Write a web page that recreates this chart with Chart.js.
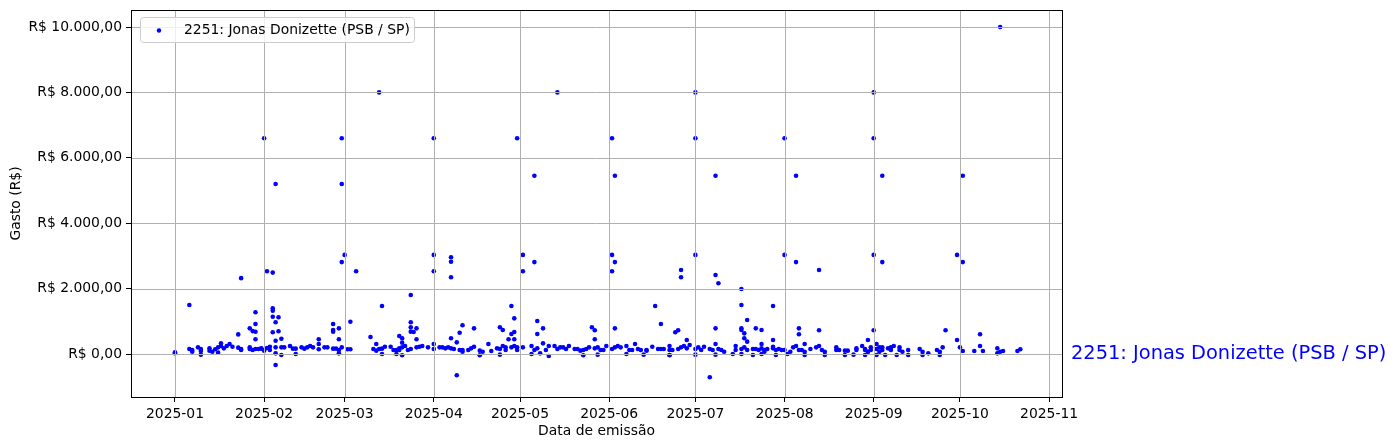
<!DOCTYPE html>
<html><head><meta charset="utf-8">
<style>html,body{margin:0;padding:0;background:#fff;}#wrap{width:1397px;height:448px;position:relative;}</style>
<script src="https://cdn.jsdelivr.net/npm/chart.js@4.4.1/dist/chart.umd.min.js"></script>
</head><body><div id="wrap"><canvas id="c" width="1397" height="448"></canvas></div>
<script>
// Dias desde 2025-01-01 (data de emissão) e gasto (R$) de cada documento
const dias = [
0,0,5,5,6,6,8,9,9,9,12,12,13,14,15,15,16,16,17,18,19,20,22,22,23,23,23,26,26,26,27,27,28,28,28,28,28,29,30,30,
31,31,31,32,32,33,33,34,34,34,34,34,35,36,36,37,35,35,35,37,38,40,41,42,44,45,46,47,48,50,50,50,52,53,55,56,57,58,60,61,37,35,42,57,55,55,55,57,57,35,
58,58,59,58,61,63,68,69,70,71,72,73,75,76,77,78,78,79,80,81,82,84,85,86,88,90,90,92,93,94,95,96,97,99,100,102,72,77,79,71,72,82,82,82,83,84,82,84,78,79,70,79,
90,90,90,96,96,96,100,99,98,96,98,100,103,104,106,107,110,112,113,114,115,115,117,118,119,119,106,113,104,113,114,118,117,116,118,117,118,109,
119,121,121,125,125,126,126,128,133,121,124,125,126,128,129,130,132,133,134,135,136,137,130,124,127,
139,140,141,142,143,144,146,147,148,149,150,152,153,154,155,157,158,159,160,161,162,164,164,166,168,169,170,172,142,147,157,163,172,145,146,146,153,167,169,152,152,152,153,153,
176,176,174,175,178,172,173,175,176,177,178,179,181,182,183,184,186,187,188,189,190,191,195,195,197,198,199,201,202,203,204,205,206,172,181,188,194,197,201,204,186,181,181,181,188,188,189,188,197,197,199,197,197,198,198,199,202,204,204,
205,208,208,209,210,211,212,214,215,216,217,218,219,221,223,224,225,226,230,230,231,233,234,237,237,239,240,241,241,209,213,219,226,233,236,208,208,217,217,224,224,219,212,212,216,216,
240,241,242,242,244,244,245,245,246,246,248,249,249,250,252,252,253,255,259,260,262,265,266,267,240,244,247,251,255,260,266,243,243,243,243,246,246,268,272,273,274,
272,274,274,280,280,278,281,286,286,287,288,287,293,294
];
const gastos = [
50,20,1500,153,122,71,204,153,92,-20,173,102,71,143,204,41,245,326,173,245,306,224,194,600,153,122,2320,204,785,153,122,700,153,1275,917,450,680,153,173,163,
122,6600,102,184,2530,122,224,2490,1398,1325,1141,663,969,1122,694,468,407,-336,204,204,204,245,163,163,204,163,204,245,204,450,306,143,204,204,163,163,122,204,143,143,-30,20,0,20,917,734,683,785,450,5200,
6600,5200,3030,2810,988,2530,520,153,102,153,163,224,224,122,122,173,122,204,245,122,153,204,224,245,204,306,153,204,204,173,204,173,153,122,122,122,0,0,-40,8000,1468,1804,969,816,673,785,683,450,550,480,306,347,
6600,3030,2530,2960,2820,2345,877,652,357,480,-652,71,173,224,102,71,92,173,153,245,122,204,204,245,204,122,-40,-20,785,816,734,673,612,450,450,1468,1090,306,
6600,3030,2530,5450,2810,1009,612,785,8000,204,245,122,173,326,122,245,245,153,204,204,153,245,-60,0,20,
153,153,102,122,153,204,173,204,122,122,245,153,204,245,204,245,122,122,306,153,122,102,122,224,153,153,153,122,-40,-20,0,-20,-40,816,725,450,785,1468,917,6600,3030,2530,5450,2810,
2570,2345,663,725,428,245,122,153,204,245,173,275,153,204,122,224,153,122,306,153,122,71,245,122,153,204,122,153,153,122,173,122,153,-30,-20,-20,0,0,-30,0,-713,8000,6600,3030,5450,2416,2162,785,1988,1498,1040,785,734,632,480,377,785,306,734,
71,173,224,122,153,122,122,71,204,245,122,122,71,153,204,245,122,71,204,122,122,102,102,173,122,245,153,428,71,-30,0,-30,-30,-30,-20,1468,428,785,602,2570,725,306,6600,3030,5450,2810,
122,71,204,122,153,306,71,204,122,204,173,122,204,245,122,204,71,122,153,71,20,122,71,204,-30,-30,-30,-30,-30,-30,-30,725,8000,6600,3030,5450,2810,725,428,204,92,
3030,5450,2810,602,245,92,92,173,20,71,92,10000,92,143
];
const mesesTicks = ['2025-01','2025-02','2025-03','2025-04','2025-05','2025-06','2025-07','2025-08','2025-09','2025-10','2025-11'];
const gastoTicks = [0,2000,4000,6000,8000,10000];
const serieNome = '2251: Jonas Donizette (PSB / SP)';
const eixoX = 'Data de emissão';
const eixoY = 'Gasto (R$)';

const FONT = 'DejaVu Sans';
const base = Date.UTC(2025,0,1);
const mesDia = s => { const [a,m] = s.split('-').map(Number); return (Date.UTC(a,m-1,1)-base)/86400000; };
const brl = v => { const neg=v<0; let [i,d]=Math.abs(v).toFixed(2).split('.'); i=i.replace(/\B(?=(\d{3})+(?!\d))/g,'.'); return 'R$ '+(neg?'-':'')+i+','+d; };
const pontos = dias.map((d,i)=>({x:d,y:gastos[i]}));
const tickMap = {}; mesesTicks.forEach(s=>tickMap[mesDia(s)]=s);

const overlay = {
  id:'overlay',
  afterDatasetsDraw(chart){
    const {ctx, chartArea:a, scales:{x,y}} = chart;
    ctx.save();
    ctx.strokeStyle='#b0b0b0'; ctx.lineWidth=1;
    x.ticks.forEach(t=>{const p=Math.round(x.getPixelForValue(t.value))+0.5; ctx.beginPath(); ctx.moveTo(p,a.top); ctx.lineTo(p,a.bottom); ctx.stroke();});
    y.ticks.forEach(t=>{const p=Math.round(y.getPixelForValue(t.value))+0.5; ctx.beginPath(); ctx.moveTo(a.left,p); ctx.lineTo(a.right,p); ctx.stroke();});
    ctx.strokeStyle='#000'; ctx.lineWidth=1;
    ctx.strokeRect(Math.round(a.left)+0.5, Math.round(a.top)+0.5, Math.round(a.right)-Math.round(a.left), Math.round(a.bottom)-Math.round(a.top));
    // legenda
    const lx=a.left+9, ly=a.top+7, lw=274, lh=25;
    ctx.fillStyle='rgba(255,255,255,0.8)'; ctx.strokeStyle='#cccccc';
    ctx.beginPath(); ctx.roundRect(lx+0.5,ly+0.5,lw,lh,3); ctx.fill(); ctx.stroke();
    ctx.fillStyle='#0000ff'; ctx.beginPath(); ctx.arc(lx+19,ly+13.5,2.2,0,Math.PI*2); ctx.fill();
    ctx.fillStyle='#000'; ctx.font='13.9px "'+FONT+'"'; ctx.textBaseline='alphabetic'; ctx.textAlign='left';
    ctx.fillText(serieNome, lx+44, ly+17);
    // rótulo à direita, na altura de R$ 0
    ctx.fillStyle='#0000ff'; ctx.font='19.4px "'+FONT+'"'; ctx.textBaseline='middle';
    ctx.fillText(serieNome, a.right+9, y.getPixelForValue(0));
    ctx.restore();
  }
};

new Chart(document.getElementById('c'), {
  type:'scatter',
  data:{datasets:[{label:serieNome, data:pontos, backgroundColor:'#0000ff', borderColor:'#0000ff', borderWidth:0, pointRadius:2.3, pointHoverRadius:2.3}]},
  options:{
    responsive:false, animation:false, devicePixelRatio:1,
    layout:{padding:{left:0,right:335,top:10,bottom:0}},
    plugins:{legend:{display:false}, tooltip:{enabled:false}},
    scales:{
      x:{type:'linear', min:-15.3, max:308.5,
        afterBuildTicks:s=>{s.ticks=mesesTicks.map(m=>({value:mesDia(m)}));},
        afterFit:s=>{s.height=51; s.paddingLeft=0; s.paddingRight=0;},
        ticks:{autoSkip:false, maxRotation:0, color:'#000', padding:4, font:{family:FONT,size:13.9}, callback:v=>tickMap[v]},
        grid:{drawOnChartArea:false, drawTicks:true, tickLength:5, tickColor:'#000', tickWidth:1},
        border:{display:false},
        title:{display:true, text:eixoX, color:'#000', font:{family:FONT,size:13.9}, padding:{top:0,bottom:8}}
      },
      y:{type:'linear', min:-1315, max:10520,
        afterBuildTicks:s=>{s.ticks=gastoTicks.map(v=>({value:v}));},
        afterFit:s=>{s.width=131; s.paddingTop=0; s.paddingBottom=0;},
        ticks:{color:'#000', padding:4, font:{family:FONT,size:13.9}, callback:v=>brl(v)},
        grid:{drawOnChartArea:false, drawTicks:true, tickLength:5, tickColor:'#000', tickWidth:1},
        border:{display:false},
        title:{display:true, text:eixoY, color:'#000', font:{family:FONT,size:13.9}, padding:{top:8,bottom:0}}
      }
    }
  },
  plugins:[overlay]
});
</script></body></html>
